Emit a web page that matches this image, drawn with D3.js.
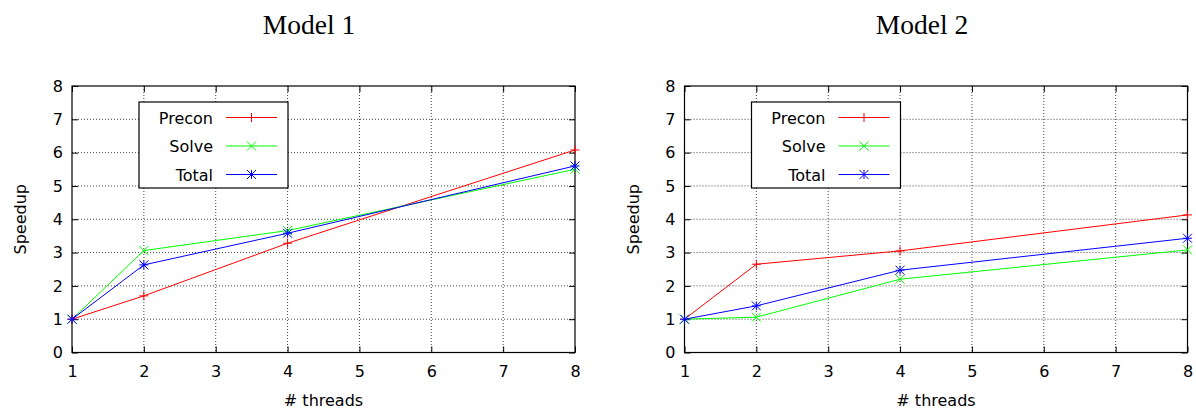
<!DOCTYPE html>
<html><head><meta charset="utf-8">
<script src="https://cdn.jsdelivr.net/npm/d3@7"></script>
<style>body{margin:0;background:#fff}</style>
</head><body>
<svg id="c" width="1196" height="410"></svg>
<script>
const threads = [1, 2, 4, 8];
const xTicks = [1, 2, 3, 4, 5, 6, 7, 8];
const yTicks = [0, 1, 2, 3, 4, 5, 6, 7, 8];
const seriesNames = ["Precon", "Solve", "Total"];
const seriesColors = ["#ff0000", "#00ff00", "#0000ff"];
const model1Precon = [1.0, 1.70, 3.28, 6.08];
const model1Solve  = [1.0, 3.06, 3.66, 5.50];
const model1Total  = [1.0, 2.63, 3.58, 5.60];
const model2Precon = [1.0, 2.65, 3.05, 4.13];
const model2Solve  = [1.0, 1.06, 2.20, 3.08];
const model2Total  = [1.0, 1.40, 2.47, 3.43];
const titles = ["Model 1", "Model 2"];

(function () {
const panels = [
  {title: titles[0], left: 72, titleX: 309, data: [model1Precon, model1Solve, model1Total]},
  {title: titles[1], left: 684.5, titleX: 922, data: [model2Precon, model2Solve, model2Total]}
];
const W = 503, plotTop = 86, plotBottom = 352.5;
const svg = d3.select("#c");
const font = "DejaVu Sans, sans-serif";
const fs = 16;

function marker(g, type, cx, cy, color) {
  const s = 4.5;
  const p = d3.path();
  if (type === 0 || type === 2) { p.moveTo(cx - s, cy); p.lineTo(cx + s, cy); p.moveTo(cx, cy - s); p.lineTo(cx, cy + s); }
  if (type === 1 || type === 2) { p.moveTo(cx - s, cy - s); p.lineTo(cx + s, cy + s); p.moveTo(cx - s, cy + s); p.lineTo(cx + s, cy - s); }
  g.append("path").attr("d", p.toString()).attr("stroke", color).attr("stroke-width", 1).attr("fill", "none");
}

const legendLayer = [];
panels.forEach(pn => {
  const x = d3.scaleLinear().domain([1, 8]).range([pn.left, pn.left + W]);
  const y = d3.scaleLinear().domain([0, 8]).range([plotBottom, plotTop]);
  const g = svg.append("g");

  g.selectAll(".gx").data(xTicks.slice(1, -1)).enter().append("line")
    .attr("x1", d => x(d)).attr("x2", d => x(d)).attr("y1", plotTop).attr("y2", plotBottom)
    .attr("stroke", "#444").attr("stroke-width", 1).attr("stroke-dasharray", "1,2");
  g.selectAll(".gy").data(yTicks.slice(1, -1)).enter().append("line")
    .attr("y1", d => y(d)).attr("y2", d => y(d)).attr("x1", pn.left).attr("x2", pn.left + W)
    .attr("stroke", "#444").attr("stroke-width", 1).attr("stroke-dasharray", "1,2");

  const tl = 6;
  g.append("g").attr("transform", `translate(0,${plotBottom})`)
    .call(d3.axisBottom(x).tickValues(xTicks).tickFormat(d3.format("d")).tickSizeInner(-tl).tickSizeOuter(0).tickPadding(13))
    .call(a => a.select(".domain").remove());
  g.append("g").attr("transform", `translate(0,${plotTop})`)
    .call(d3.axisTop(x).tickValues(xTicks).tickSizeInner(-tl).tickSizeOuter(0).tickFormat(""))
    .call(a => a.select(".domain").remove());
  g.append("g").attr("transform", `translate(${pn.left},0)`)
    .call(d3.axisLeft(y).tickValues(yTicks).tickFormat(d3.format("d")).tickSizeInner(-tl).tickSizeOuter(0).tickPadding(9))
    .call(a => a.select(".domain").remove());
  g.append("g").attr("transform", `translate(${pn.left + W},0)`)
    .call(d3.axisRight(y).tickValues(yTicks).tickSizeInner(-tl).tickSizeOuter(0).tickFormat(""))
    .call(a => a.select(".domain").remove());
  g.selectAll(".tick text").attr("font-family", font).attr("font-size", fs).attr("fill", "#000");
  g.selectAll(".tick line").attr("stroke", "#000");

  g.append("rect").attr("x", pn.left).attr("y", plotTop).attr("width", W).attr("height", plotBottom - plotTop)
    .attr("fill", "none").attr("stroke", "#000").attr("stroke-width", 1.2);

  g.append("text").attr("x", pn.left + W / 2).attr("y", 406).attr("text-anchor", "middle")
    .attr("font-family", font).attr("font-size", fs).text("# threads");
  g.append("text").attr("transform", `translate(${pn.left - 46},${(plotTop + plotBottom) / 2}) rotate(-90)`)
    .attr("text-anchor", "middle").attr("font-family", font).attr("font-size", fs).text("Speedup");

  g.append("text").attr("x", pn.titleX).attr("y", 34).attr("text-anchor", "middle")
    .attr("font-family", "Liberation Serif, serif").attr("font-size", 27.5).text(pn.title);

  const line = d3.line().x((d, i) => x(threads[i])).y(d => y(d));
  pn.data.forEach((vals, si) => {
    g.append("path").datum(vals).attr("d", line).attr("fill", "none")
      .attr("stroke", seriesColors[si]).attr("stroke-width", 1);
    vals.forEach((v, i) => marker(g, si, x(threads[i]), y(v), seriesColors[si]));
  });
  legendLayer.push(pn.left + 67);
});

legendLayer.forEach(lx => {
  const ly = 102;
  const lg = svg.append("g");
  lg.append("rect").attr("x", lx).attr("y", ly).attr("width", 149).attr("height", 86)
    .attr("fill", "#ffffff").attr("stroke", "#000").attr("stroke-width", 1.2);
  seriesNames.forEach((nm, si) => {
    const ry = ly + 15.5 + si * 28.5;
    lg.append("text").attr("x", lx + 74).attr("y", ry + 6).attr("text-anchor", "end")
      .attr("font-family", font).attr("font-size", fs).attr("fill", "#000").text(nm);
    lg.append("line").attr("x1", lx + 87).attr("x2", lx + 138).attr("y1", ry).attr("y2", ry)
      .attr("stroke", seriesColors[si]).attr("stroke-width", 1);
    marker(lg, si, lx + 112.5, ry, seriesColors[si]);
  });
});
})();
</script>
</body></html>
